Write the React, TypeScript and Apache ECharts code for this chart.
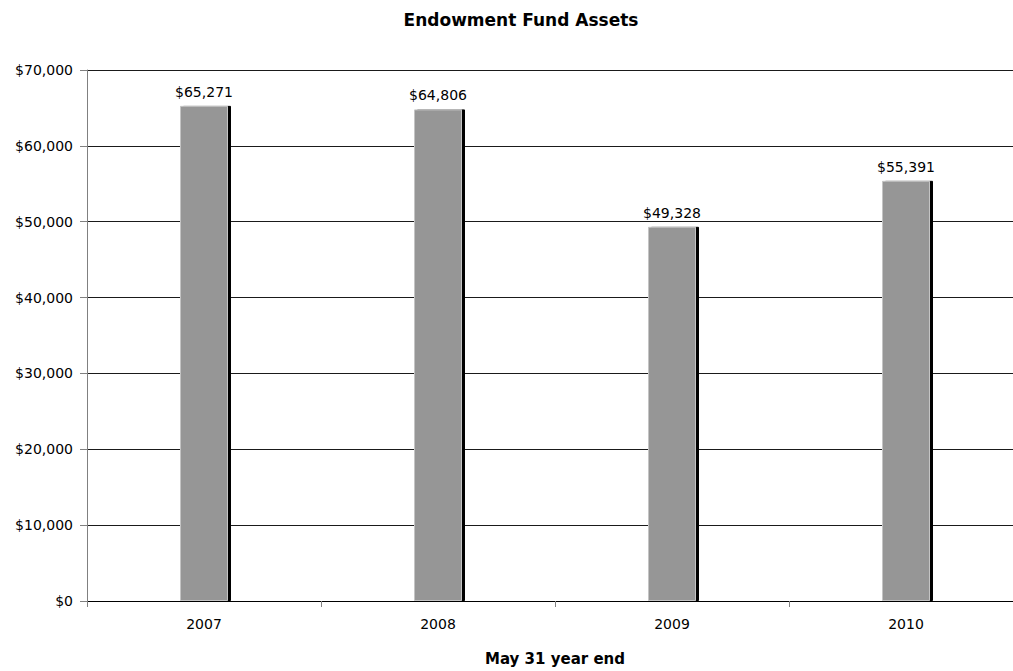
import React, { useEffect, useRef } from "react";
import * as echarts from "echarts";

const categories = ["2007", "2008", "2009", "2010"];
const assets = [65271, 64806, 49328, 55391];
const yTicks = [0, 10000, 20000, 30000, 40000, 50000, 60000, 70000];

const fmt = (v: number) => "$" + v.toLocaleString("en-US");

export default function App() {
  const ref = useRef<HTMLDivElement>(null);
  useEffect(() => {
    if (!ref.current) return;
    const chart = echarts.init(ref.current, null, { renderer: "svg" });
    const font = "DejaVu Sans, Verdana, sans-serif";
    chart.setOption({
      animation: false,
      backgroundColor: "#ffffff",
      title: {
        text: "Endowment Fund Assets",
        left: 516,
        top: 6,
        textAlign: "center",
        textStyle: { fontFamily: font, fontSize: 17, fontWeight: "bold", color: "#000" },
      },
      grid: { left: 87, top: 70, width: 936, height: 540, containLabel: false },
      xAxis: {
        type: "category",
        data: categories,
        name: "May 31 year end",
        nameLocation: "middle",
        nameGap: 50,
        nameTextStyle: { fontFamily: font, fontSize: 15, fontWeight: "bold", color: "#000" },
        axisLine: { lineStyle: { color: "#000", width: 1 } },
        axisTick: { show: true, alignWithLabel: false, length: 6, lineStyle: { color: "#808080" } },
        axisLabel: { fontFamily: font, fontSize: 14, color: "#000", margin: 16 },
      },
      yAxis: {
        type: "value",
        min: yTicks[0],
        max: yTicks[yTicks.length - 1],
        interval: 10000,
        axisLine: { show: true, lineStyle: { color: "#808080", width: 1 } },
        axisTick: { show: true, length: 7, lineStyle: { color: "#808080" } },
        axisLabel: { fontFamily: font, fontSize: 14, color: "#000", margin: 14, formatter: (v: number) => fmt(v) },
        splitLine: { lineStyle: { color: "#1a1a1a", width: 1 } },
      },
      series: [
        {
          type: "bar",
          data: assets,
          barWidth: 48,
          itemStyle: {
            color: "#969696",
            borderColor: "#c4c4c4",
            borderWidth: 1,
            shadowColor: "#000",
            shadowOffsetX: 3,
            shadowOffsetY: 0,
            shadowBlur: 0,
          },
          label: {
            show: true,
            position: "top",
            distance: 7,
            fontFamily: font,
            fontSize: 14,
            color: "#000",
            formatter: (p: any) => fmt(p.value),
          },
        },
      ],
    });
    return () => chart.dispose();
  }, []);
  return (
    <div style={{ position: "fixed", left: 0, top: 0, width: 1013, height: 671, overflow: "hidden" }}>
      <div ref={ref} style={{ width: 1040, height: 671 }} />
    </div>
  );
}
